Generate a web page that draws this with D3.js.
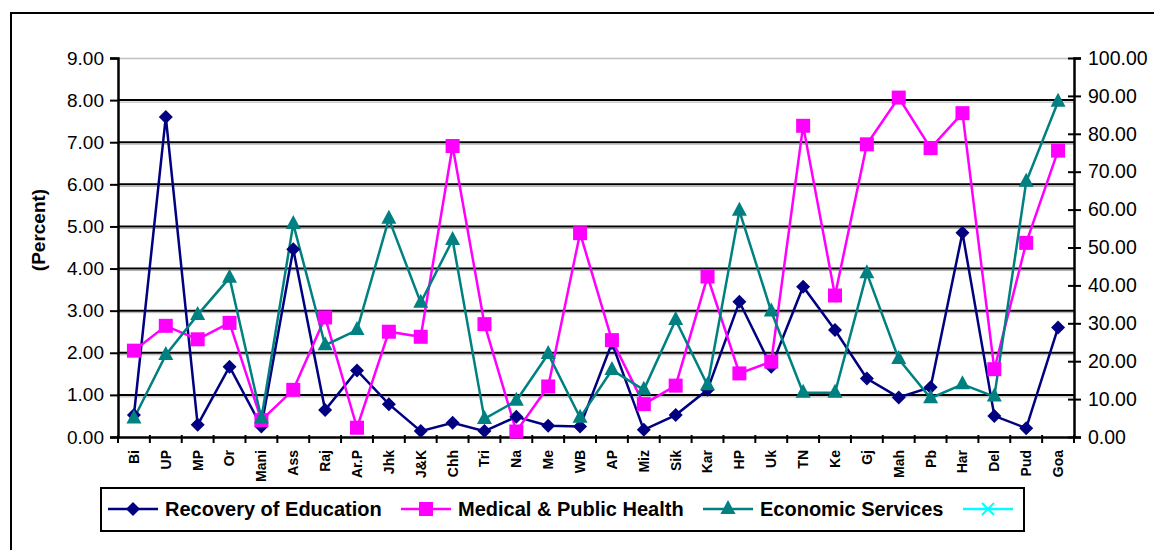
<!DOCTYPE html>
<html>
<head>
<meta charset="utf-8">
<script src="https://cdn.jsdelivr.net/npm/d3@7"></script>
<style>
  body { margin: 0; background: #fff; }
  svg { display: block; font-family: "Liberation Sans", Arial, sans-serif; }
</style>
</head>
<body>
<svg width="1154" height="550"></svg>
<script>
// states / UTs along the x axis
var states = ["Bi", "UP", "MP", "Or", "Mani", "Ass", "Raj", "Ar.P", "Jhk", "J&K",
  "Chh", "Tri", "Na", "Me", "WB", "AP", "Miz", "Sik", "Kar", "HP",
  "Uk", "TN", "Ke", "Gj", "Mah", "Pb", "Har", "Del", "Pud", "Goa"];

// (Percent), left axis
var education = [0.52, 7.60, 0.29, 1.67, 0.25, 4.46, 0.64, 1.58, 0.78, 0.14,
  0.34, 0.14, 0.48, 0.27, 0.25, 2.23, 0.17, 0.52, 1.12, 3.21,
  1.67, 3.57, 2.54, 1.39, 0.94, 1.18, 4.85, 0.50, 0.21, 2.60];
var health = [2.05, 2.64, 2.32, 2.71, 0.40, 1.12, 2.84, 0.22, 2.50, 2.38,
  6.91, 2.68, 0.13, 1.20, 4.84, 2.30, 0.78, 1.22, 3.81, 1.51,
  1.79, 7.39, 3.36, 6.95, 8.06, 6.86, 7.69, 1.61, 4.61, 6.80];
var economic = [0.44, 1.95, 2.90, 3.78, 0.44, 5.06, 2.18, 2.54, 5.18, 3.19,
  4.68, 0.43, 0.86, 1.97, 0.46, 1.59, 1.12, 2.78, 1.23, 5.37,
  2.98, 1.05, 1.05, 3.89, 1.85, 0.92, 1.25, 0.96, 6.06, 7.96];

var leftTicks = [0, 1, 2, 3, 4, 5, 6, 7, 8, 9];
var rightTicks = [0, 10, 20, 30, 40, 50, 60, 70, 80, 90, 100];

var series = [
  { name: "Recovery of Education", values: education, color: "#000080", marker: "diamond" },
  { name: "Medical & Public Health", values: health, color: "#ff00ff", marker: "square" },
  { name: "Economic Services", values: economic, color: "#008080", marker: "triangle" },
  { name: "", values: null, color: "#00ffff", marker: "cross" }
];

var svg = d3.select("svg");
var plotLeft = 118, plotRight = 1074, plotTop = 58, plotBottom = 437;

var x = d3.scaleBand().domain(states).range([plotLeft, plotRight]);
var y = d3.scaleLinear().domain([0, 9]).range([plotBottom, plotTop]);
var y2 = d3.scaleLinear().domain([0, 100]).range([plotBottom, plotTop]);

// chart outer frame (only top and left show in the picture)
svg.append("path")
  .attr("d", "M11,1154 L11,13 L1154,13")
  .attr("fill", "none").attr("stroke", "#000").attr("stroke-width", 2);

// gridlines
leftTicks.forEach(function (t) {
  if (t === 0) return;
  if (t === 9) {
    svg.append("line").attr("x1", plotLeft).attr("x2", plotRight)
      .attr("y1", y(t) + 0.5).attr("y2", y(t) + 0.5)
      .attr("stroke", "#c0c0c0").attr("stroke-width", 1.5);
    return;
  }
  svg.append("line").attr("x1", plotLeft).attr("x2", plotRight)
    .attr("y1", y(t) + 2).attr("y2", y(t) + 2)
    .attr("stroke", "#b0b0b0").attr("stroke-width", 1);
  svg.append("line").attr("x1", plotLeft).attr("x2", plotRight)
    .attr("y1", y(t)).attr("y2", y(t))
    .attr("stroke", "#000").attr("stroke-width", 2);
});

// left axis
var gl = svg.append("g")
  .attr("transform", "translate(" + plotLeft + ",0)")
  .call(d3.axisLeft(y).tickValues(leftTicks).tickFormat(d3.format(".2f")).tickSize(8).tickPadding(6));
gl.select(".domain").attr("stroke-width", 2.5);
gl.selectAll("line").attr("stroke-width", 2);
gl.selectAll("text").attr("font-size", 19).attr("fill", "#000").attr("font-family", "Liberation Sans, Arial");

// right axis, ticks crossing
var gr = svg.append("g")
  .attr("transform", "translate(" + plotRight + ",0)")
  .call(d3.axisRight(y2).tickValues(rightTicks).tickFormat(d3.format(".2f")).tickSize(7).tickPadding(7));
gr.select(".domain").attr("stroke-width", 2.5);
gr.selectAll("line").attr("x1", -6).attr("stroke-width", 2);
gr.selectAll("text").attr("font-size", 19.5).attr("fill", "#000").attr("font-family", "Liberation Sans, Arial");

// bottom axis with ticks between categories
var gx = svg.append("g")
  .attr("transform", "translate(0," + plotBottom + ")")
  .call(d3.axisBottom(x).tickSize(0).tickPadding(0));
gx.select(".domain").attr("stroke-width", 2.5);
gx.selectAll(".tick text")
  .attr("font-size", 14).attr("font-weight", "bold").attr("fill", "#000")
  .attr("font-family", "Liberation Sans, Arial")
  .attr("transform", "rotate(-90)")
  .attr("text-anchor", "end")
  .attr("x", -13).attr("y", 0).attr("dy", "0.35em");
var bounds = d3.range(states.length + 1).map(function (i) { return plotLeft + i * x.step(); });
gx.selectAll(".bound").data(bounds).enter().append("line")
  .attr("class", "bound")
  .attr("x1", function (d) { return d; }).attr("x2", function (d) { return d; })
  .attr("y1", -2).attr("y2", 6)
  .attr("stroke", "#000").attr("stroke-width", 2);

// y title
svg.append("text")
  .attr("transform", "translate(45,230) rotate(-90)")
  .attr("text-anchor", "middle")
  .attr("font-size", 19).attr("font-weight", "bold")
  .text("(Percent)");

function cx(d, i) { return x(states[i]) + x.bandwidth() / 2; }

function drawMarker(g, type, color) {
  if (type === "diamond") {
    g.append("path").attr("d", "M0,-7 L7,0 L0,7 L-7,0Z").attr("fill", color);
  } else if (type === "square") {
    g.append("rect").attr("x", -7).attr("y", -7).attr("width", 14).attr("height", 14).attr("fill", color);
  } else if (type === "triangle") {
    g.append("path").attr("d", "M0,-9 L7.5,5 L-7.5,5Z").attr("fill", color);
  } else {
    g.append("path").attr("d", "M-6,-6 L6,6 M-6,6 L6,-6").attr("stroke", color).attr("stroke-width", 2);
  }
}

var line = d3.line()
  .x(function (d, i) { return cx(d, i); })
  .y(function (d) { return y(d); });

series.forEach(function (s) {
  if (!s.values) return;
  svg.append("path")
    .datum(s.values)
    .attr("fill", "none")
    .attr("stroke", s.color)
    .attr("stroke-width", 2.5)
    .attr("d", line);
});
series.forEach(function (s) {
  if (!s.values) return;
  s.values.forEach(function (v, i) {
    var g = svg.append("g").attr("transform", "translate(" + cx(v, i) + "," + y(v) + ")");
    drawMarker(g, s.marker, s.color);
  });
});

// legend
var legX = [108, 401, 703, 963];
svg.append("rect")
  .attr("x", 101).attr("y", 488).attr("width", 923).attr("height", 43)
  .attr("fill", "#fff").attr("stroke", "#000").attr("stroke-width", 2);
series.forEach(function (s, i) {
  var lg = svg.append("g").attr("transform", "translate(" + legX[i] + ",509)");
  lg.append("line").attr("x1", 0).attr("x2", 50)
    .attr("stroke", s.color).attr("stroke-width", 2.5);
  drawMarker(lg.append("g").attr("transform", "translate(25,0)"), s.marker, s.color);
  if (s.name) {
    lg.append("text").attr("x", 57).attr("dy", "0.36em")
      .attr("font-size", 20).attr("font-weight", "bold")
      .text(s.name);
  }
});
</script>
</body>
</html>
